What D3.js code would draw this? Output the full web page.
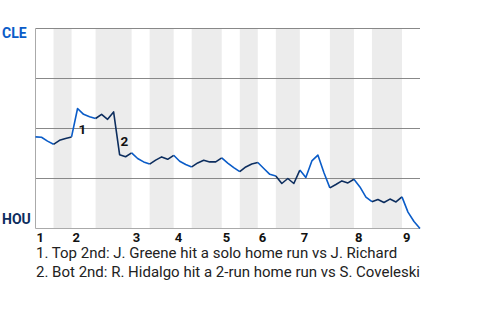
<!DOCTYPE html>
<html>
<head>
<meta charset="utf-8">
<script src="https://cdn.jsdelivr.net/npm/d3@7"></script>
<style>
  body { margin: 0; background: #fff; font-family: Roboto, "Noto Sans", sans-serif; }
</style>
</head>
<body>
<div id="chart"></div>
<script>
// win probability for CLE after each plate appearance
const winProb = [
  0.458, 0.456, 0.437, 0.421, 0.441, 0.450, 0.458,
  0.600, 0.571, 0.559, 0.550, 0.571, 0.546, 0.583,
  0.369, 0.359, 0.378, 0.350, 0.333, 0.322, 0.342,
  0.358, 0.346, 0.366, 0.336, 0.320, 0.308, 0.328,
  0.341, 0.333, 0.333, 0.353, 0.327, 0.304, 0.284,
  0.308, 0.322, 0.330, 0.300, 0.271, 0.262, 0.225,
  0.250, 0.225, 0.292, 0.255, 0.338, 0.367, 0.280,
  0.203, 0.220, 0.238, 0.228, 0.246, 0.208, 0.157,
  0.134, 0.145, 0.130, 0.147, 0.133, 0.158, 0.082,
  0.035, 0.000
];
// plate appearance index where each half inning starts (top 1st .. top 9th), plus the end
const halfStarts = [0, 3, 6, 10, 16, 19, 23, 26, 31, 34, 37, 40, 44, 49, 53, 56, 61, 64];
const innings = ["1", "2", "3", "4", "5", "6", "7", "8", "9"];
const teamTop = "CLE";
const teamBottom = "HOU";
const notes = [
  { idx: 7, label: "1", text: "1. Top 2nd: J. Greene hit a solo home run vs J. Richard" },
  { idx: 14, label: "2", text: "2. Bot 2nd: R. Hidalgo hit a 2-run home run vs S. Coveleski" }
];

const W = 480, H = 320;
const blue = "#0a5cc8", navy = "#0c2d5e";

const svg = d3.select("#chart").append("svg")
  .attr("width", W)
  .attr("height", H);

const x = d3.scaleLinear().domain([0, winProb.length - 1]).range([35.5, 420]);
const y = d3.scaleLinear().domain([0, 1]).range([228.5, 28.5]);

// shaded bottom halves
for (let i = 1; i < halfStarts.length - 1; i += 2) {
  svg.append("rect")
    .attr("x", x(halfStarts[i]))
    .attr("y", y(1))
    .attr("width", x(halfStarts[i + 1]) - x(halfStarts[i]))
    .attr("height", y(0) - y(1))
    .attr("fill", "#ececec");
}

// horizontal grid lines
[0.25, 0.5, 0.75, 1].forEach(v => {
  svg.append("line")
    .attr("x1", x(0)).attr("x2", x(winProb.length - 1))
    .attr("y1", y(v)).attr("y2", y(v))
    .attr("stroke", "#888").attr("stroke-width", 1);
});

// axes lines
svg.append("line")
  .attr("x1", x(0)).attr("x2", x(0))
  .attr("y1", y(1)).attr("y2", y(0))
  .attr("stroke", "#aaa");
svg.append("line")
  .attr("x1", x(0)).attr("x2", x(winProb.length - 1))
  .attr("y1", y(0)).attr("y2", y(0))
  .attr("stroke", "#aaa");

// line segments, colour by half inning
const line = d3.line().x(d => x(d.i)).y(d => y(d.p));
for (let h = 0; h < halfStarts.length - 1; h++) {
  const pts = [];
  for (let i = halfStarts[h]; i <= halfStarts[h + 1]; i++) pts.push({ i: i, p: winProb[i] });
  svg.append("path")
    .datum(pts)
    .attr("d", line)
    .attr("fill", "none")
    .attr("stroke", h % 2 === 0 ? blue : navy)
    .attr("stroke-width", 1.6)
    .attr("stroke-linejoin", "round");
}

// team labels
svg.append("text")
  .attr("x", 2).attr("y", 38)
  .attr("fill", blue)
  .style("font-size", "14px").style("font-weight", "bold")
  .text(teamTop);
svg.append("text")
  .attr("x", 2).attr("y", 224)
  .attr("fill", navy)
  .style("font-size", "14px").style("font-weight", "bold")
  .text(teamBottom);

// inning numbers
innings.forEach((d, k) => {
  svg.append("text")
    .attr("x", x(halfStarts[k * 2]) + 1)
    .attr("y", 241.5)
    .attr("fill", "#111")
    .style("font-size", "13px").style("font-weight", "bold")
    .text(d);
});

// event markers on the chart
notes.forEach(n => {
  svg.append("text")
    .attr("x", x(n.idx) + 1)
    .attr("y", y(winProb[n.idx]) + (n.idx === 7 ? 25 : -9))
    .attr("fill", "#111")
    .style("font-size", "13.5px").style("font-weight", "bold")
    .text(n.label);
});

// footnotes
notes.forEach((n, k) => {
  svg.append("text")
    .attr("x", 36)
    .attr("y", 258 + k * 19)
    .attr("fill", "#222")
    .style("font-size", "15px")
    .text(n.text);
});
</script>
</body>
</html>
